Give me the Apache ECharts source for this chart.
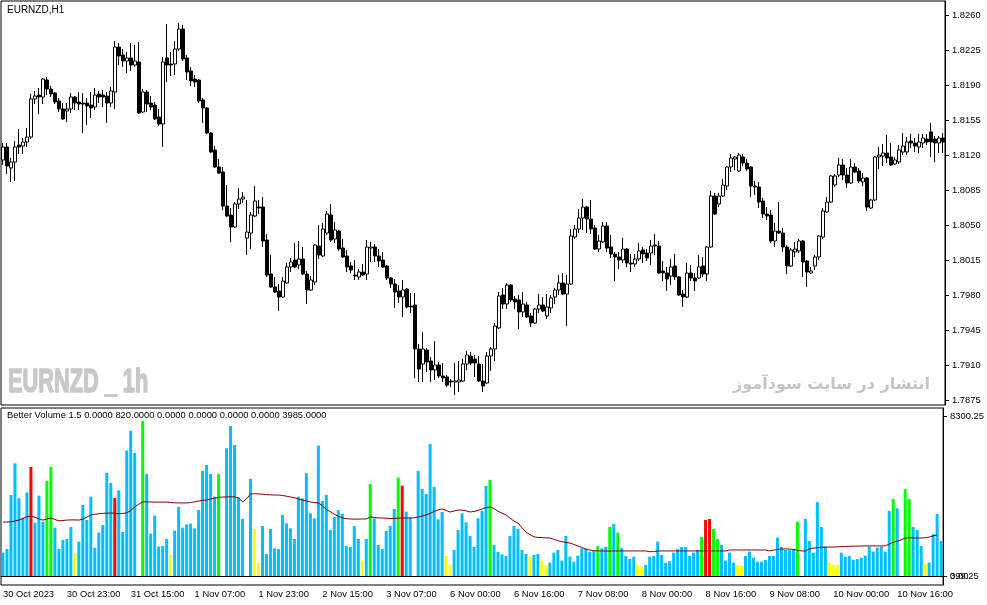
<!DOCTYPE html>
<html><head><meta charset="utf-8">
<script src="https://cdn.jsdelivr.net/npm/echarts@6.0.0/dist/echarts.min.js"></script>
<style>html,body{margin:0;padding:0;background:#fff}#c{width:987px;height:605px}</style>
</head><body><div id="c"></div>
<script>
const openP = [1.8115,1.8128,1.8107,1.8113,1.8130,1.8129,1.8133,1.8138,1.8176,1.8180,1.8178,1.8195,1.8186,1.8182,1.8174,1.8166,1.8164,1.8166,1.8178,1.8173,1.8172,1.8172,1.8170,1.8168,1.8181,1.8180,1.8179,1.8172,1.8183,1.8228,1.8220,1.8214,1.8217,1.8210,1.8213,1.8163,1.8183,1.8172,1.8170,1.8158,1.8151,1.8217,1.8211,1.8211,1.8226,1.8246,1.8217,1.8204,1.8196,1.8195,1.8175,1.8167,1.8142,1.8125,1.8108,1.8103,1.8069,1.8060,1.8048,1.8071,1.8076,1.8037,1.8042,1.8059,1.8068,1.8068,1.8035,1.8001,1.7988,1.7984,1.7978,1.7992,1.8008,1.8015,1.8010,1.8016,1.8001,1.7985,1.7993,1.8029,1.8019,1.8042,1.8060,1.8036,1.8044,1.8027,1.8019,1.8009,1.8000,1.7998,1.8003,1.8001,1.8027,1.8028,1.8019,1.8015,1.8009,1.7997,1.7991,1.7984,1.7978,1.7986,1.7969,1.7970,1.7926,1.7911,1.7925,1.7914,1.7905,1.7910,1.7899,1.7898,1.7894,1.7893,1.7893,1.7894,1.7911,1.7919,1.7916,1.7911,1.7894,1.7892,1.7919,1.7926,1.7947,1.7980,1.7971,1.7990,1.7976,1.7975,1.7963,1.7970,1.7959,1.7952,1.7966,1.7970,1.7959,1.7967,1.7978,1.7985,1.7992,1.7981,1.7991,1.8038,1.8046,1.8057,1.8068,1.8056,1.8047,1.8026,1.8033,1.8049,1.8028,1.8021,1.8018,1.8015,1.8026,1.8012,1.8011,1.8016,1.8025,1.8022,1.8022,1.8030,1.8029,1.8004,1.8002,1.7999,1.8009,1.7998,1.7981,1.7978,1.8002,1.7997,1.7997,1.8009,1.8001,1.8028,1.8079,1.8071,1.8079,1.8089,1.8108,1.8116,1.8104,1.8118,1.8112,1.8108,1.8089,1.8088,1.8074,1.8061,1.8060,1.8034,1.8044,1.8042,1.8028,1.8009,1.8023,1.8024,1.8034,1.8014,1.8002,1.8009,1.8018,1.8038,1.8063,1.8073,1.8090,1.8100,1.8110,1.8100,1.8092,1.8108,1.8104,1.8093,1.8097,1.8067,1.8075,1.8118,1.8119,1.8122,1.8118,1.8111,1.8113,1.8123,1.8123,1.8134,1.8132,1.8128,1.8132,1.8136,1.8143,1.8136,1.8132,1.8137];
const closeP = [1.8128,1.8109,1.8113,1.8128,1.8128,1.8133,1.8138,1.8176,1.8179,1.8178,1.8196,1.8186,1.8181,1.8173,1.8166,1.8156,1.8166,1.8178,1.8172,1.8171,1.8171,1.8169,1.8167,1.8180,1.8178,1.8178,1.8172,1.8184,1.8228,1.8219,1.8214,1.8217,1.8210,1.8214,1.8162,1.8183,1.8171,1.8168,1.8156,1.8151,1.8213,1.8210,1.8210,1.8226,1.8246,1.8216,1.8203,1.8194,1.8193,1.8174,1.8167,1.8142,1.8123,1.8108,1.8102,1.8069,1.8059,1.8048,1.8071,1.8076,1.8078,1.8043,1.8060,1.8074,1.8067,1.8034,1.8000,1.7988,1.7983,1.7978,1.7994,1.8008,1.8013,1.8008,1.8016,1.8001,1.7985,1.7995,1.8030,1.8020,1.8046,1.8061,1.8035,1.8045,1.8026,1.8018,1.8008,1.8005,1.7999,1.8003,1.8000,1.8028,1.8028,1.8019,1.8014,1.8008,1.7997,1.7991,1.7983,1.7978,1.7985,1.7968,1.7968,1.7926,1.7906,1.7926,1.7913,1.7905,1.7910,1.7899,1.7897,1.7890,1.7893,1.7894,1.7895,1.7911,1.7920,1.7912,1.7912,1.7894,1.7889,1.7919,1.7926,1.7949,1.7979,1.7971,1.7990,1.7975,1.7973,1.7963,1.7971,1.7958,1.7952,1.7966,1.7970,1.7964,1.7968,1.7977,1.7985,1.7992,1.7981,1.7991,1.8039,1.8046,1.8057,1.8068,1.8056,1.8046,1.8026,1.8034,1.8049,1.8027,1.8021,1.8018,1.8015,1.8026,1.8012,1.8011,1.8016,1.8024,1.8021,1.8017,1.8029,1.8029,1.8002,1.8002,1.7996,1.8008,1.7998,1.7980,1.7978,1.8002,1.7997,1.7994,1.8008,1.8001,1.8028,1.8079,1.8061,1.8079,1.8090,1.8108,1.8117,1.8118,1.8120,1.8112,1.8106,1.8089,1.8088,1.8073,1.8061,1.8059,1.8034,1.8044,1.8042,1.8028,1.8009,1.8025,1.8026,1.8034,1.8013,1.8003,1.8004,1.8018,1.8039,1.8064,1.8073,1.8099,1.8099,1.8110,1.8100,1.8092,1.8108,1.8103,1.8094,1.8097,1.8068,1.8075,1.8118,1.8120,1.8122,1.8117,1.8110,1.8115,1.8125,1.8129,1.8133,1.8132,1.8129,1.8133,1.8137,1.8133,1.8133,1.8132,1.8137,1.8133];
const highP = [1.8132,1.8132,1.8117,1.8134,1.8146,1.8137,1.8147,1.8181,1.8184,1.8187,1.8197,1.8198,1.8189,1.8183,1.8177,1.8172,1.8172,1.8182,1.8179,1.8183,1.8182,1.8177,1.8183,1.8187,1.8184,1.8185,1.8183,1.8188,1.8234,1.8232,1.8226,1.8223,1.8232,1.8230,1.8233,1.8186,1.8185,1.8179,1.8173,1.8166,1.8218,1.8251,1.8223,1.8234,1.8252,1.8250,1.8220,1.8208,1.8200,1.8196,1.8177,1.8168,1.8143,1.8129,1.8116,1.8108,1.8090,1.8067,1.8073,1.8087,1.8083,1.8075,1.8063,1.8089,1.8075,1.8078,1.8041,1.8020,1.7998,1.7991,1.7998,1.8012,1.8017,1.8032,1.8034,1.8028,1.8004,1.7999,1.8031,1.8050,1.8052,1.8064,1.8071,1.8053,1.8045,1.8036,1.8025,1.8013,1.8015,1.8006,1.8011,1.8035,1.8033,1.8031,1.8026,1.8023,1.8010,1.7998,1.7996,1.7990,1.7995,1.7987,1.7982,1.7982,1.7931,1.7943,1.7927,1.7918,1.7934,1.7913,1.7912,1.7900,1.7896,1.7912,1.7914,1.7916,1.7924,1.7923,1.7920,1.7919,1.7911,1.7923,1.7928,1.7952,1.7983,1.7987,1.7992,1.7991,1.7979,1.7980,1.7983,1.7973,1.7962,1.7967,1.7981,1.7978,1.7981,1.7980,1.7987,1.8000,1.8002,1.8000,1.8046,1.8050,1.8066,1.8076,1.8069,1.8075,1.8050,1.8040,1.8053,1.8053,1.8040,1.8023,1.8023,1.8037,1.8027,1.8021,1.8021,1.8032,1.8028,1.8026,1.8035,1.8041,1.8034,1.8014,1.8008,1.8016,1.8021,1.7999,1.7985,1.8012,1.8010,1.8002,1.8020,1.8018,1.8029,1.8084,1.8082,1.8082,1.8096,1.8109,1.8121,1.8119,1.8122,1.8121,1.8116,1.8109,1.8094,1.8093,1.8077,1.8068,1.8065,1.8052,1.8073,1.8047,1.8030,1.8027,1.8033,1.8036,1.8035,1.8015,1.8008,1.8020,1.8040,1.8067,1.8078,1.8100,1.8101,1.8117,1.8116,1.8107,1.8116,1.8112,1.8107,1.8102,1.8098,1.8076,1.8119,1.8128,1.8131,1.8140,1.8132,1.8118,1.8130,1.8142,1.8138,1.8141,1.8137,1.8141,1.8141,1.8141,1.8152,1.8139,1.8139,1.8142];
const lowP = [1.8110,1.8101,1.8093,1.8094,1.8121,1.8121,1.8128,1.8136,1.8171,1.8161,1.8171,1.8180,1.8178,1.8171,1.8163,1.8155,1.8153,1.8162,1.8165,1.8165,1.8142,1.8150,1.8157,1.8165,1.8172,1.8168,1.8152,1.8168,1.8166,1.8210,1.8208,1.8202,1.8204,1.8208,1.8161,1.8162,1.8163,1.8165,1.8155,1.8149,1.8128,1.8193,1.8199,1.8200,1.8224,1.8214,1.8195,1.8189,1.8188,1.8172,1.8152,1.8141,1.8122,1.8107,1.8101,1.8065,1.8058,1.8033,1.8047,1.8066,1.8072,1.8020,1.8026,1.8058,1.8061,1.8028,1.7998,1.7987,1.7982,1.7964,1.7977,1.7991,1.8003,1.8007,1.8006,1.8000,1.7971,1.7984,1.7990,1.8016,1.8018,1.8040,1.8033,1.8032,1.8024,1.8017,1.8003,1.8002,1.7995,1.7995,1.7999,1.7995,1.8013,1.8013,1.8008,1.8007,1.7995,1.7987,1.7967,1.7972,1.7958,1.7967,1.7962,1.7897,1.7893,1.7893,1.7903,1.7893,1.7895,1.7897,1.7893,1.7888,1.7888,1.7880,1.7883,1.7893,1.7905,1.7910,1.7898,1.7893,1.7883,1.7891,1.7904,1.7914,1.7946,1.7966,1.7966,1.7973,1.7966,1.7946,1.7958,1.7957,1.7948,1.7951,1.7962,1.7963,1.7956,1.7962,1.7971,1.7980,1.7980,1.7949,1.7990,1.8036,1.8042,1.8045,1.8042,1.8041,1.8025,1.8023,1.8032,1.8023,1.8017,1.7994,1.8006,1.8012,1.8008,1.8003,1.8008,1.8014,1.8012,1.8014,1.8010,1.8020,1.8001,1.7994,1.7984,1.7990,1.7995,1.7979,1.7968,1.7977,1.7994,1.7984,1.7996,1.7998,1.7994,1.8027,1.8060,1.8068,1.8078,1.8085,1.8103,1.8105,1.8103,1.8109,1.8104,1.8078,1.8080,1.8067,1.8057,1.8055,1.8032,1.8028,1.8041,1.8023,1.8001,1.8008,1.8018,1.8022,1.7998,1.7988,1.8001,1.8005,1.8015,1.8036,1.8062,1.8072,1.8088,1.8098,1.8095,1.8087,1.8091,1.8102,1.8092,1.8089,1.8064,1.8066,1.8074,1.8106,1.8109,1.8112,1.8109,1.8110,1.8111,1.8120,1.8120,1.8127,1.8123,1.8122,1.8127,1.8130,1.8118,1.8113,1.8122,1.8122];
const volume = [1211,1401,4204,5847,4031,3028,4342,5657,2768,4169,2820,4930,5657,2508,1401,1868,1920,2543,1194,1782,3685,2906,4117,1471,2249,2647,5346,4827,4048,4446,2284,6505,7526,6384,3500,8045,5294,2197,3131,1522,1557,1920,1090,2353,3598,2508,2682,2716,2474,3425,5450,5761,5294,4117,5294,6000,6626,7785,6799,4066,2958,4000,5034,2439,692,2595,1142,2439,1436,1401,3166,2733,2474,1920,4117,4031,5328,3252,2993,6764,3893,4204,2387,3062,3425,3218,1557,1505,2595,1920,796,1920,4775,2993,1609,1401,2336,2595,3477,5104,4688,3339,3045,6000,5450,4515,4256,6851,4619,2941,3322,1038,571,1349,2387,3252,2785,2076,1505,2993,3391,4671,4982,1609,1246,1125,1038,2076,2595,2439,1349,1142,1003,1090,1142,796,519,692,1211,1349,796,2076,1003,744,1055,1436,1401,1263,1298,1557,1436,1505,2543,2699,2249,1436,1038,882,1003,571,484,571,1003,1038,1782,1090,692,779,1211,1401,1505,1505,1038,1211,1349,2024,2906,2958,2439,1920,1609,796,1211,692,571,519,1038,1263,952,744,744,830,1038,1038,1990,1505,1349,1349,1401,2820,3000,2958,1817,1211,3841,2543,1522,692,571,571,1211,1003,1038,830,882,952,1055,1522,1263,1471,1522,1263,3374,3996,3512,4500,4515,3996,2543,2387,1557,623,692,2180,3218,1817];
const volumeAvg = [2800,2800,2810,2850,2900,2980,3080,3110,3050,2960,2900,2960,3010,2930,2860,2880,2900,2910,2910,2900,2950,3050,3160,3200,3230,3250,3260,3270,3260,3230,3250,3270,3400,3580,3720,3840,3850,3840,3830,3840,3830,3840,3810,3800,3790,3790,3790,3810,3850,3890,3920,3950,3990,4040,4070,4100,4100,4110,4100,4060,3840,4000,4250,4270,4260,4240,4220,4210,4200,4200,4180,4140,4100,4060,4000,3940,3890,3840,3810,3790,3650,3450,3330,3200,3100,3020,2970,2960,2950,2950,2960,2960,3060,3040,3010,3010,3000,2980,2990,3000,3010,3010,3010,3020,3060,3110,3170,3250,3350,3430,3480,3400,3320,3370,3420,3420,3380,3320,3350,3400,3480,3550,3580,3500,3360,3260,3170,3000,2850,2750,2500,2280,2150,2030,2000,1990,1980,1970,1900,1830,1780,1740,1710,1640,1560,1480,1400,1350,1310,1300,1300,1300,1290,1300,1300,1300,1300,1300,1300,1300,1300,1300,1260,1270,1300,1300,1300,1300,1300,1300,1300,1300,1300,1300,1300,1300,1300,1300,1300,1300,1300,1300,1350,1350,1350,1350,1350,1350,1350,1350,1350,1350,1300,1340,1380,1400,1400,1400,1380,1330,1300,1300,1400,1450,1470,1490,1500,1500,1505,1510,1520,1530,1540,1550,1550,1560,1560,1560,1560,1560,1560,1560,1660,1750,1800,1880,1970,1980,1970,1970,1970,1980,2020,2080,2130];
const redBars = [7,28,100,176,177];
const greenBars = [11,12,35,54,92,99,122,149,152,154,175,178,179,199,223,226,227];
const yellowBars = [18,42,63,64,90,111,112,132,135,136,159,160,184,185,207,208,209,231];
const whiteBars = [34,55,61,103,200,225];
const timeLabels = ['30 Oct 2023','30 Oct 23:00','31 Oct 15:00','1 Nov 07:00','1 Nov 23:00','2 Nov 15:00','3 Nov 07:00','6 Nov 00:00','6 Nov 16:00','7 Nov 08:00','8 Nov 00:00','8 Nov 16:00','9 Nov 08:00','10 Nov 00:00','10 Nov 16:00'];
const priceTicks = [1.7875,1.7910,1.7945,1.7980,1.8015,1.8050,1.8085,1.8120,1.8155,1.8190,1.8225,1.8260];
const volumeTicks = [0, 8300.25];
const volumeMinLabel = '399.25';
const headerText = 'EURNZD,H1';
const indicatorText = 'Better Volume 1.5 0.0000 820.0000 0.0000 0.0000 0.0000 0.0000 3985.0000';
const watermarkText = 'EURNZD _ 1h';
const siteText = 'انتشار در سایت سودآموز';

const cats = openP.map((_, i) => i);
const candles = openP.map((o, i) => [o, closeP[i], lowP[i], highP[i]]);
const volColor = i => redBars.includes(i) ? '#ff0000' : greenBars.includes(i) ? '#00ff00' :
  yellowBars.includes(i) ? '#ffff00' : whiteBars.includes(i) ? '#ffffff' : '#00bfff';
const volData = volume.map((v, i) => ({ value: v, itemStyle: { color: volColor(i) } }));

const FONT = 'Liberation Sans';
const FS = 9.4;
const chart = echarts.init(document.getElementById('c'), null, { renderer: 'canvas' });
chart.setOption({
  animation: false,
  backgroundColor: '#ffffff',
  grid: [
    { left: 1, right: 42, top: 1, height: 404, show: true, borderColor: '#000', borderWidth: 1, backgroundColor: '#fff' },
    { left: 1, right: 42, top: 408, height: 177, show: true, borderColor: '#000', borderWidth: 1, backgroundColor: '#fff' }
  ],
  xAxis: [
    { type: 'category', gridIndex: 0, data: cats, boundaryGap: true,
      axisLine: { show: false }, axisTick: { show: false }, axisLabel: { show: false }, splitLine: { show: false } },
    { type: 'category', gridIndex: 1, data: cats, boundaryGap: true,
      axisLine: { show: true, lineStyle: { color: '#000', width: 1 } },
      axisTick: { show: true, inside: true, length: 3, alignWithLabel: true, interval: (i) => i % 16 === 0, lineStyle: { color: '#000' } },
      axisLabel: { show: true, interval: (i) => i % 16 === 0, align: 'left', margin: 5, fontFamily: FONT, fontSize: FS, color: '#000',
        formatter: (v, i) => timeLabels[Math.round(i / 16)] || '' },
      splitLine: { show: false } }
  ],
  yAxis: [
    { type: 'value', gridIndex: 0, position: 'right', min: 1.7870, max: 1.8274, scale: true,
      axisLine: { show: true, lineStyle: { color: '#000' } },
      axisTick: { show: true, length: 4, customValues: priceTicks, lineStyle: { color: '#000' } },
      axisLabel: { show: true, customValues: priceTicks, margin: 7, fontFamily: FONT, fontSize: FS, color: '#000', formatter: v => v.toFixed(4) },
      splitLine: { show: false } },
    { type: 'value', gridIndex: 1, position: 'right', min: -466.9, max: 8715.3,
      axisLine: { show: true, lineStyle: { color: '#000' } },
      axisTick: { show: true, length: 4, customValues: volumeTicks, lineStyle: { color: '#000' } },
      axisLabel: { show: true, customValues: volumeTicks, margin: 7, fontFamily: FONT, fontSize: FS, color: '#000', formatter: v => v === 0 ? '0.00' : v.toFixed(2) },
      splitLine: { show: false } },
    { type: 'value', gridIndex: 1, position: 'right', min: -466.9, max: 8715.3,
      axisLine: { show: false }, axisTick: { show: false },
      axisLabel: { show: true, customValues: [0], margin: 7, fontFamily: FONT, fontSize: FS, color: '#000', formatter: () => volumeMinLabel },
      splitLine: { show: false } }
  ],
  series: [
    { type: 'candlestick', xAxisIndex: 0, yAxisIndex: 0, data: candles, barWidth: 3,
      itemStyle: { color: '#ffffff', color0: '#000000', borderColor: '#000000', borderColor0: '#000000', borderWidth: 1 } },
    { type: 'bar', xAxisIndex: 1, yAxisIndex: 1, data: volData, barWidth: 3 },
    { type: 'line', xAxisIndex: 1, yAxisIndex: 1, data: volumeAvg, showSymbol: false, symbol: 'none',
      lineStyle: { color: '#800000', width: 1 }, z: 5 }
  ],
  graphic: [
    { type: 'text', left: 7, top: 5, z: 10, style: { text: headerText, font: '10px ' + FONT, fill: '#000' } },
    { type: 'text', left: 7, top: 411, z: 10, style: { text: indicatorText, font: FS + 'px ' + FONT, fill: '#000' } },
    { type: 'text', x: 8, y: 366, scaleX: 0.64, z: 10, style: { text: watermarkText, font: 'bold 34px ' + FONT, fill: '#c8c8c8', stroke: '#c8c8c8', lineWidth: 1.6, textVerticalAlign: 'top' } },
    { type: 'text', x: 930, y: 385, z: 10, style: { text: siteText, font: 'bold 16px DejaVu Sans', fill: '#c4c4c4', textAlign: 'right', textVerticalAlign: 'middle' } }
  ]
});
</script></body></html>
